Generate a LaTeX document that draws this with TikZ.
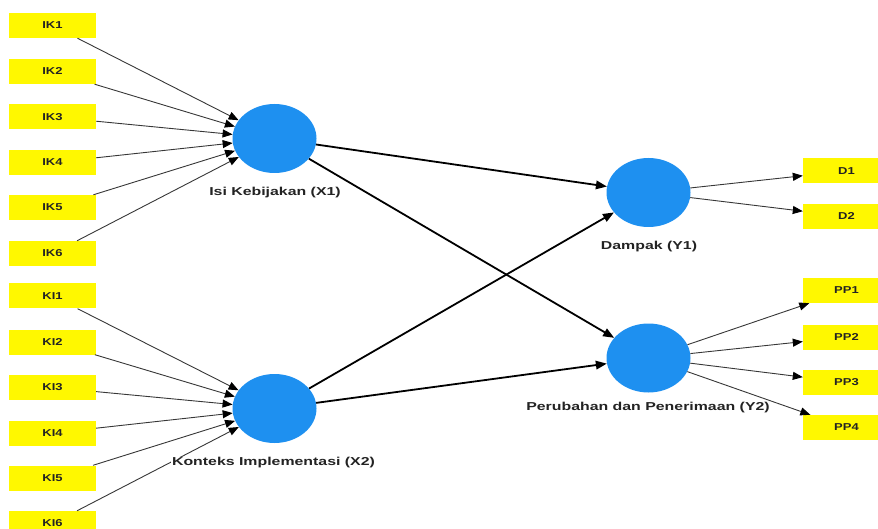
\documentclass[tikz,border=0pt]{standalone}
\usepackage{fontspec}
\setmainfont{Liberation Sans}
\usepackage{graphicx}
\usetikzlibrary{shapes.geometric,arrows.meta}
\definecolor{boxyellow}{RGB}{255,248,0}
\definecolor{latblue}{RGB}{30,144,240}
\definecolor{txtdark}{RGB}{35,35,35}
\definecolor{linegrey}{RGB}{55,55,55}
\newcommand{\wlab}[1]{\scalebox{1.38}[1]{\bfseries #1}}
\newcommand{\blab}[1]{\scalebox{1.3}[1]{\bfseries #1}}
\begin{document}
\begin{tikzpicture}[x=1pt,y=-1pt,
  indbox/.style={rectangle,fill=boxyellow,minimum width=87pt,minimum height=25pt,inner sep=0pt,font=\fontsize{10}{12}\selectfont,text=txtdark},
  latent/.style={ellipse,fill=latblue,minimum width=84pt,minimum height=69pt,inner sep=0pt},
  latlab/.style={font=\fontsize{11.5}{13}\selectfont,text=txtdark,inner sep=1pt},
  meas/.style={draw=linegrey,line width=0.9pt,-{Triangle[length=10pt,width=8pt,color=black]}},
  struct/.style={draw=black,line width=1.8pt,-{Triangle[length=11pt,width=8.5pt]}}]
\useasboundingbox (0,0) rectangle (878,529);
\clip (0,0) rectangle (878,529);
% latent variables
\node[latent] (x1) at (274.5,138.5) {};
\node[latent] (x2) at (274.5,408.5) {};
\node[latent] (y1) at (648.5,192.5) {};
\node[latent] (y2) at (648.5,358) {};
% left indicators
\node[indbox] (ik1) at (52.5,25.5) {\blab{IK1}};
\node[indbox] (ik2) at (52.5,71.5) {\blab{IK2}};
\node[indbox] (ik3) at (52.5,117) {\blab{IK3}};
\node[indbox] (ik4) at (52.5,162.5) {\blab{IK4}};
\node[indbox] (ik5) at (52.5,207.5) {\blab{IK5}};
\node[indbox] (ik6) at (52.5,253.5) {\blab{IK6}};
\node[indbox] (ki1) at (52.5,296) {\blab{KI1}};
\node[indbox] (ki2) at (52.5,342) {\blab{KI2}};
\node[indbox] (ki3) at (52.5,387.5) {\blab{KI3}};
\node[indbox] (ki4) at (52.5,433) {\blab{KI4}};
\node[indbox] (ki5) at (52.5,478) {\blab{KI5}};
\node[indbox] (ki6) at (52.5,523.5) {\blab{KI6}};
% right indicators
\node[indbox] (d1) at (846.5,171) {\blab{D1}};
\node[indbox] (d2) at (846.5,216.5) {\blab{D2}};
\node[indbox] (pp1) at (846.5,290.5) {\blab{PP1}};
\node[indbox] (pp2) at (846.5,337) {\blab{PP2}};
\node[indbox] (pp3) at (846.5,382.5) {\blab{PP3}};
\node[indbox] (pp4) at (846.5,427.5) {\blab{PP4}};
% measurement arrows
\foreach \s in {ik1,ik2,ik3,ik4,ik5,ik6} \draw[meas] (\s) -- (x1);
\foreach \s in {ki1,ki2,ki3,ki4,ki5,ki6} \draw[meas] (\s) -- (x2);
\foreach \t in {d1,d2} \draw[meas] (y1) -- (\t);
\foreach \t in {pp1,pp2,pp3,pp4} \draw[meas] (y2) -- (\t);
% structural arrows
\draw[struct] (x1) -- (y1);
\draw[struct] (x1) -- (y2);
\draw[struct] (x2) -- (y1);
\draw[struct] (x2) -- (y2);
% labels
\node[latlab] (lx1) at (275,193) {\wlab{Isi Kebijakan (X1)}};
\node[latlab,fill=white] (lx2) at (273.5,463) {\wlab{Konteks Implementasi (X2)}};
\node[latlab] (ly1) at (649,247) {\wlab{Dampak (Y1)}};
\node[latlab] (ly2) at (648,407.5) {\wlab{Perubahan dan Penerimaan (Y2)}};
\end{tikzpicture}
\end{document}
